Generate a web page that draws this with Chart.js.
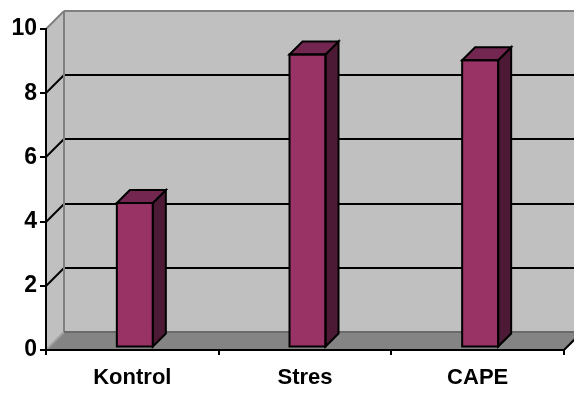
<!DOCTYPE html>
<html>
<head>
<meta charset="utf-8">
<script src="https://cdn.jsdelivr.net/npm/chart.js@4/dist/chart.umd.min.js"></script>
<style>
  html, body { margin: 0; padding: 0; background: #ffffff; }
  #wrap { width: 574px; height: 394px; position: relative; }
</style>
</head>
<body>
<div id="wrap"><canvas id="chart" width="574" height="394"></canvas></div>
<script>
// Group labels and measured values
const categories = ['Kontrol', 'Stres', 'CAPE'];
const values = [4.5, 9.13, 8.95];
const yTicks = { min: 0, max: 10, step: 2 };

// Oblique 3D look: wall depth, bar plane offset and bar depth (px)
const DEPTH = 18;
const BAR_SHIFT = 2.5;
const BAR_DEPTH = 13;
const LW = 2;

const FONT_X = { family: "'Liberation Sans', Arial, sans-serif", size: 22, weight: 'bold' };
const FONT_Y = { family: "'Liberation Sans', Arial, sans-serif", size: 23, weight: 'bold' };

function line(ctx, x1, y1, x2, y2, color, w) {
  ctx.beginPath();
  ctx.strokeStyle = color;
  ctx.lineWidth = w || LW;
  ctx.moveTo(x1, y1);
  ctx.lineTo(x2, y2);
  ctx.stroke();
}

function poly(ctx, pts, fill, stroke) {
  ctx.beginPath();
  ctx.moveTo(pts[0][0], pts[0][1]);
  for (let i = 1; i < pts.length; i++) ctx.lineTo(pts[i][0], pts[i][1]);
  ctx.closePath();
  if (fill) { ctx.fillStyle = fill; ctx.fill(); }
  if (stroke) { ctx.strokeStyle = stroke; ctx.lineWidth = LW; ctx.lineJoin = 'miter'; ctx.stroke(); }
}

const walls3d = {
  id: 'walls3d',
  beforeDraw(chart) {
    const { ctx, chartArea: a, scales } = chart;
    const L = a.left, R = a.right, T = a.top, B = a.bottom, D = DEPTH;
    ctx.save();
    // back wall
    poly(ctx, [[L + D, T - D], [R + D, T - D], [R + D, B - D], [L + D, B - D]], '#c0c0c0');
    // left side wall
    poly(ctx, [[L, T], [L + D, T - D], [L + D, B - D], [L, B]], '#c0c0c0');
    // floor
    poly(ctx, [[L, B], [L + D, B - D], [R + D, B - D], [R, B]], '#848484');

    // gridlines on the back wall plus their diagonals on the side wall
    const ys = scales.y;
    ys.ticks.forEach(t => {
      if (t.value <= yTicks.min || t.value >= yTicks.max) return;
      const py = Math.round(ys.getPixelForValue(t.value));
      line(ctx, L + D, py - D, R + D, py - D, '#000000');
      line(ctx, L, py, L + D, py - D, '#000000');
    });

    // wall edges
    const top = Math.round(T - D), back = Math.round(B - D);
    line(ctx, L + D, top, R + D, top, '#808080');
    line(ctx, L + D, top, L + D, back, '#808080');
    line(ctx, L, T, L + D, T - D, '#808080');
    line(ctx, L, B, L + D, B - D, '#a0a0a0');
    line(ctx, L + D, back, R + D, back, '#6a6a6a');
    // right floor edge
    line(ctx, R, B, R + D, B - D, '#000000');
    ctx.restore();
  },
  beforeDatasetsDraw(chart) {
    chart.ctx.save();
    chart.ctx.translate(BAR_SHIFT, -BAR_SHIFT);
  },
  afterDatasetsDraw(chart) {
    const ctx = chart.ctx;
    const meta = chart.getDatasetMeta(0);
    meta.data.forEach(bar => {
      const { x, y, base, width } = bar.getProps(['x', 'y', 'base', 'width'], true);
      const l = x - width / 2, r = x + width / 2, d = BAR_DEPTH;
      // side face
      poly(ctx, [[r, y], [r + d, y - d], [r + d, base - d], [r, base]], '#4d1a35', '#000000');
      // top face
      poly(ctx, [[l, y], [l + d, y - d], [r + d, y - d], [r, y]], '#722650', '#000000');
      // front outline redrawn on top of the joins
      ctx.strokeStyle = '#000000';
      ctx.lineWidth = LW;
      ctx.strokeRect(l, y, width, base - y);
    });
    ctx.restore();
  }
};

new Chart(document.getElementById('chart'), {
  type: 'bar',
  data: {
    labels: categories,
    datasets: [{
      data: values,
      backgroundColor: '#993366',
      borderColor: '#000000',
      borderWidth: 0,
      barThickness: 36
    }]
  },
  options: {
    responsive: false,
    animation: false,
    layout: { padding: { top: 29, right: 10, left: 0, bottom: 0 } },
    plugins: { legend: { display: false }, tooltip: { enabled: false } },
    scales: {
      x: {
        offset: true,
        grid: { display: true, drawOnChartArea: false, drawTicks: true, tickLength: 5, color: '#000000', lineWidth: 2, offset: true },
        border: { display: true, color: '#000000', width: 2 },
        ticks: { color: '#000000', font: FONT_X, padding: 10, maxRotation: 0 },
        afterFit(scale) { scale.height = 44; }
      },
      y: {
        min: yTicks.min,
        max: yTicks.max,
        ticks: { stepSize: yTicks.step, color: '#000000', font: FONT_Y, padding: 3 },
        grid: { display: true, drawOnChartArea: false, drawTicks: true, tickLength: 6, color: '#000000', lineWidth: 2 },
        border: { display: true, color: '#000000', width: 2 },
        afterFit(scale) { scale.width = 46; }
      }
    }
  },
  plugins: [walls3d]
});
</script>
</body>
</html>
